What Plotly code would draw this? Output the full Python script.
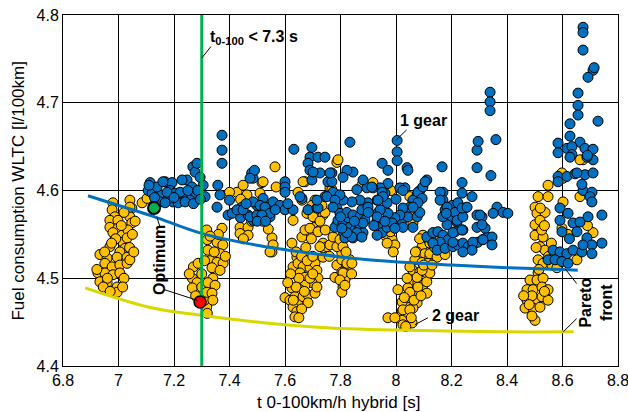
import plotly.graph_objects as go

# ---------------- data ----------------
# 2-gear variants (yellow), grouped by cluster: (t0-100 [s], fuel [l/100km])
yellow_c1 = [(6.98,4.586),(6.977,4.578),(6.987,4.57),(6.969,4.566),(6.998,4.566),(6.969,4.558),(6.998,4.557),
             (6.98,4.552),(7.013,4.549),(6.987,4.544),(7.016,4.541),(6.969,4.536),(7.023,4.534),(7.005,4.53),
             (6.933,4.527),(6.959,4.523),(6.995,4.524),(7.031,4.524),(6.951,4.517),(6.977,4.513),(7.005,4.515),
             (7.031,4.517),(6.926,4.506),(6.951,4.506),(6.98,4.504),(7.005,4.506),(6.933,4.496),(6.959,4.495),
             (6.995,4.49),(6.995,4.484),(7.041,4.589),(7.048,4.58),(7.041,4.57),(7.048,4.563),(7.034,4.555),
             (7.031,4.546),(7.041,4.521),(7.02,4.50),(6.922,4.51),(6.96,4.50),(7.04,4.535),(7.06,4.565),
             (6.99,4.545),(7.085,4.586),(7.103,4.591),(7.041,4.581),(6.975,4.54),(7.01,4.56),(7.02,4.575),(6.95,4.53),
             (6.945,4.49),(6.97,4.485),(7.015,4.49),(7.05,4.55),(7.055,4.53)]
yellow_c2 = [(7.27,4.513),(7.287,4.517),(7.266,4.50),(7.283,4.495),(7.266,4.489),(7.278,4.48),(7.318,4.467),
             (7.32,4.46),(7.31,4.475),(7.30,4.49),(7.30,4.505),(7.318,4.555),(7.373,4.557),(7.32,4.544),
             (7.355,4.541),(7.376,4.538),(7.322,4.532),(7.366,4.528),(7.33,4.52),(7.355,4.518),(7.377,4.517),
             (7.337,4.512),(7.366,4.509),(7.34,4.50),(7.322,4.495),(7.348,4.492),(7.318,4.484),(7.337,4.483),
             (7.345,4.53),(7.36,4.55),(7.385,4.525),(7.31,4.52),(7.33,4.548),(7.34,4.475),(7.255,4.505),
             (7.427,4.598),(7.449,4.606),(7.463,4.595),(7.517,4.609),(7.51,4.597),(7.564,4.627),(7.568,4.604),
             (7.40,4.598),(7.44,4.59),(7.438,4.558),(7.467,4.558),(7.438,4.551),(7.467,4.549),(7.45,4.545),
             (7.553,4.546),(7.557,4.538),(7.553,4.53),(7.546,4.53),(7.54,4.556),(7.48,4.565),(7.52,4.565)]
yellow_c3 = [(7.629,4.566),(7.625,4.54),(7.643,4.524),(7.629,4.513),(7.647,4.517),(7.665,4.513),(7.654,4.506),
             (7.672,4.501),(7.69,4.512),(7.708,4.517),(7.715,4.509),(7.719,4.50),(7.697,4.495),(7.672,4.492),
             (7.654,4.487),(7.625,4.489),(7.60,4.478),(7.618,4.475),(7.636,4.479),(7.647,4.473),(7.629,4.467),
             (7.643,4.462),(7.636,4.456),(7.665,4.479),(7.683,4.481),(7.683,4.472),(7.708,4.483),(7.715,4.49),
             (7.661,4.547),(7.672,4.555),(7.715,4.566),(7.737,4.572),(7.708,4.558),(7.726,4.555),(7.737,4.54),
             (7.751,4.536),(7.737,4.524),(7.787,4.515),(7.78,4.501),(7.708,4.589),(7.744,4.575),(7.733,4.583),
             (7.672,4.61),(7.787,4.632),(7.787,4.595),(7.647,4.598),(7.661,4.589),(7.697,4.583),(7.679,4.574),
             (7.701,4.57),(7.69,4.557),(7.719,4.553),(7.726,4.536),(7.762,4.538),(7.773,4.547),(7.64,4.53),
             (7.66,4.525),(7.68,4.52),(7.70,4.525),(7.65,4.50),(7.69,4.50),(7.62,4.505),(7.64,4.49),(7.66,4.465),
             (7.65,4.455),(7.762,4.603),(7.791,4.635),(7.521,4.61),(7.665,4.61),(7.769,4.601),(7.726,4.565),
             (7.61,4.495),(7.63,4.475),(7.67,4.485),(7.70,4.505),(7.675,4.535),(7.695,4.545),(7.745,4.555),(7.76,4.525)]
yellow_c4 = [(7.805,4.521),(7.823,4.513),(7.805,4.507),(7.827,4.504),(7.816,4.498),(7.809,4.49),(7.805,4.484),
             (7.834,4.521),(7.805,4.529),(7.787,4.536),(7.798,4.544),(7.809,4.536),(7.823,4.517),(7.841,4.517),
             (7.809,4.506),(7.798,4.498),(7.816,4.492),(7.82,4.53),(7.84,4.505),(7.917,4.609),(7.877,4.606),
             (7.96,4.549),(7.986,4.544),(7.996,4.538),(7.968,4.54),(7.99,4.53),(7.98,4.553),(8.05,4.593),
             (8.058,4.583),(8.05,4.572),(8.061,4.563),(7.982,4.60)]
yellow_c5 = [(8.097,4.549),(8.115,4.544),(8.13,4.538),(8.094,4.536),(8.076,4.53),(8.104,4.528),(8.122,4.524),
             (8.068,4.521),(8.094,4.518),(8.115,4.517),(8.061,4.509),(8.086,4.507),(8.111,4.506),(8.061,4.498),
             (8.079,4.495),(8.097,4.492),(8.043,4.489),(8.068,4.484),(8.111,4.483),(8.05,4.475),(8.076,4.472),
             (8.04,4.467),(8.022,4.462),(8.061,4.466),(8.043,4.456),(8.022,4.452),(8.058,4.449),(8.025,4.447),
             (7.971,4.455),(7.996,4.455),(8.007,4.487),(8.022,4.473),(8.025,4.464),(8.05,4.484),(8.079,4.49),
             (8.111,4.496),(8.122,4.506),(8.076,4.501),(8.094,4.509),(8.122,4.528),(8.122,4.54),(8.148,4.524),
             (8.177,4.527),(8.05,4.513),(8.05,4.464),(8.14,4.535),(8.16,4.545),(8.085,4.545),(8.04,4.50),
             (8.03,4.478),(8.065,4.475),(8.09,4.48),(8.10,4.515),(8.07,4.53),(8.13,4.515),(8.055,4.455),(8.035,4.445)]
yellow_c6 = [(8.548,4.606),(8.512,4.593),(8.548,4.593),(8.602,4.587),(8.501,4.581),(8.508,4.574),(8.537,4.575),
             (8.501,4.561),(8.519,4.566),(8.501,4.549),(8.53,4.547),(8.519,4.536),(8.537,4.532),(8.512,4.521),
             (8.53,4.517),(8.562,4.515),(8.58,4.512),(8.512,4.506),(8.483,4.498),(8.508,4.498),(8.53,4.50),
             (8.472,4.487),(8.494,4.487),(8.526,4.49),(8.548,4.487),(8.472,4.475),(8.501,4.475),(8.526,4.479),
             (8.548,4.475),(8.465,4.466),(8.494,4.466),(8.519,4.467),(8.501,4.452),(8.674,4.635),(8.602,4.614),
             (8.663,4.593),(8.71,4.552),(8.652,4.521),(8.598,4.557),(8.598,4.62),(8.663,4.635),(8.525,4.555),
             (8.55,4.525),(8.49,4.48),(8.515,4.51),(8.57,4.53),(8.62,4.55),(8.69,4.56),
             (8.48,4.47),(8.46,4.48),(8.535,4.485),(8.505,4.535),(8.52,4.58),(8.535,4.56),(8.56,4.54),(8.49,4.457)]

# 1-gear variants (blue)
blue_c1 = [(7.114,4.609),(7.124,4.603),(7.107,4.60),(7.121,4.597),(7.15,4.595),(7.168,4.61),(7.193,4.609),
           (7.186,4.60),(7.204,4.597),(7.175,4.589),(7.196,4.587),(7.222,4.591),(7.24,4.595),(7.247,4.612),
           (7.268,4.627),(7.276,4.621),(7.265,4.604),(7.276,4.595),(7.258,4.589),(7.312,4.593),(7.305,4.606),
           (7.15,4.587),(7.168,4.586),(7.215,4.586),(7.24,4.587),(7.139,4.604),(7.175,4.598),(7.222,4.598),
           (7.16,4.61),(7.229,4.612),(7.283,4.631),(7.294,4.615),(7.11,4.606),(7.285,4.60),(7.25,4.60),
           (7.20,4.592),(7.13,4.592),(7.27,4.585),(7.295,4.59)]
blue_c2 = [(7.373,4.663),(7.373,4.646),(7.373,4.631),(7.358,4.606),(7.366,4.595),(7.355,4.581),(7.40,4.589),
           (7.395,4.572),(7.41,4.574),(7.445,4.581),(7.44,4.569),(7.467,4.572),(7.485,4.566),(7.48,4.62),
           (7.485,4.614),(7.49,4.623),(7.427,4.578),(7.449,4.578),(7.474,4.57),(7.499,4.572),(7.521,4.572),
           (7.546,4.57),(7.539,4.581),(7.517,4.583),(7.499,4.583),(7.485,4.587),(7.521,4.591),(7.557,4.587),
           (7.582,4.583),(7.60,4.578),(7.629,4.578),(7.661,4.591),(7.683,4.578),(7.715,4.58),(7.744,4.593),
           (7.773,4.598),(7.787,4.58),(7.787,4.561),(7.474,4.614),(7.60,4.61),(7.60,4.604),(7.60,4.598),
           (7.632,4.647),(7.697,4.649),(7.69,4.638),(7.683,4.631),(7.69,4.623),(7.719,4.638),(7.744,4.638),
           (7.726,4.62),(7.697,4.612),(7.755,4.61),(7.769,4.62),(7.51,4.583),(7.528,4.581),(7.546,4.574),
           (7.517,4.572),(7.654,4.593),(7.719,4.58),(7.715,4.589),(7.751,4.593),(7.769,4.61),(7.762,4.62),
           (7.701,4.621),(7.46,4.585),(7.50,4.565),(7.53,4.565),(7.565,4.578),(7.61,4.585)]
blue_c3 = [(7.78,4.558),(7.791,4.566),(7.809,4.563),(7.827,4.569),(7.834,4.558),(7.852,4.555),(7.87,4.558),
           (7.881,4.552),(7.859,4.549),(7.827,4.549),(7.809,4.553),(7.816,4.546),(7.845,4.546),(7.798,4.574),
           (7.823,4.575),(7.845,4.572),(7.87,4.57),(7.888,4.566),(7.899,4.586),(7.87,4.589),(7.841,4.587),
           (7.809,4.589),(7.932,4.574),(7.932,4.566),(7.935,4.558),(7.95,4.552),(7.932,4.549),(7.968,4.558),
           (7.99,4.566),(8.004,4.561),(8.022,4.566),(8.043,4.57),(8.061,4.558),(8.076,4.57),(8.086,4.575),
           (8.025,4.558),(7.834,4.655),(8.004,4.657),(8.004,4.644),(8.004,4.634),(7.95,4.631),(7.971,4.623),
           (8.04,4.626),(8.111,4.612),(8.086,4.60),(8.076,4.595),(8.061,4.589),(8.05,4.581),(8.032,4.603),
           (8.014,4.603),(8.025,4.58),(8.014,4.572),(7.996,4.569),(7.986,4.563),(7.996,4.557),(7.971,4.574),
           (7.968,4.586),(7.96,4.597),(7.971,4.608),(7.943,4.603),(7.917,4.603),(7.895,4.603),(7.881,4.612),
           (7.845,4.621),(7.823,4.623),(7.809,4.615),(7.859,4.601),(7.798,4.595),(7.78,4.589),(7.773,4.581),
           (7.877,4.578),(7.899,4.581),(7.932,4.589),(7.943,4.578),(7.932,4.57),(7.881,4.563),(7.859,4.552),
           (7.877,4.547),(7.841,4.547),(7.823,4.552),(7.805,4.557),(7.913,4.604),(7.95,4.598),(7.953,4.593),
           (7.935,4.589),(8.025,4.60),(8.079,4.598),(8.097,4.604),(8.105,4.61),(8.094,4.591),(8.079,4.586),
           (8.061,4.581),(8.043,4.623),(7.90,4.575),(7.92,4.56),(7.96,4.565),(8.0,4.59),(7.85,4.565),(7.80,4.57)]
blue_c4 = [(8.111,4.547),(8.133,4.552),(8.151,4.553),(8.169,4.549),(8.188,4.544),(8.159,4.541),(8.133,4.54),
           (8.148,4.532),(8.177,4.534),(8.205,4.536),(8.223,4.538),(8.241,4.54),(8.26,4.536),(8.277,4.538),
           (8.295,4.541),(8.313,4.544),(8.328,4.547),(8.321,4.557),(8.292,4.558),(8.292,4.572),(8.31,4.57),
           (8.249,4.58),(8.22,4.574),(8.195,4.57),(8.177,4.578),(8.202,4.583),(8.223,4.586),(8.238,4.597),
           (8.238,4.609),(8.274,4.593),(8.22,4.564),(8.213,4.553),(8.241,4.555),(8.184,4.561),(8.169,4.598),
           (8.169,4.589),(8.166,4.627),(8.292,4.646),(8.296,4.656),(8.292,4.626),(8.339,4.712),(8.339,4.701),
           (8.339,4.691),(8.36,4.658),(8.342,4.617),(8.364,4.581),(8.386,4.575),(8.403,4.574),(8.35,4.574),
           (8.303,4.572),(8.31,4.561),(8.346,4.547),(8.346,4.538),(8.313,4.544),(8.277,4.541),(8.274,4.532),
           (8.241,4.53),(8.205,4.541),(8.205,4.552),(8.169,4.57),(8.184,4.581),(8.213,4.575),(8.22,4.566),
           (8.241,4.57),(8.238,4.58),(8.256,4.581),(8.238,4.555),(8.159,4.598),(8.159,4.589),(8.181,4.574)]
blue_c5 = [(8.674,4.786),(8.674,4.78),(8.674,4.76),(8.71,4.737),(8.714,4.74),(8.692,4.729),(8.656,4.711),
           (8.656,4.697),(8.656,4.686),(8.627,4.676),(8.728,4.679),(8.627,4.662),(8.663,4.655),(8.584,4.654),
           (8.584,4.643),(8.616,4.648),(8.634,4.65),(8.634,4.641),(8.681,4.648),(8.71,4.647),(8.71,4.635),
           (8.688,4.638),(8.584,4.616),(8.616,4.616),(8.645,4.619),(8.681,4.618),(8.71,4.62),(8.674,4.60),
           (8.706,4.598),(8.699,4.593),(8.706,4.587),(8.591,4.58),(8.62,4.574),(8.591,4.566),(8.638,4.563),
           (8.663,4.564),(8.692,4.57),(8.742,4.572),(8.598,4.553),(8.652,4.553),(8.688,4.546),(8.742,4.54),
           (8.706,4.538),(8.566,4.532),(8.591,4.53),(8.616,4.528),(8.638,4.532),(8.67,4.53),(8.548,4.521),
           (8.573,4.521),(8.598,4.519),(8.62,4.517),(8.674,4.538),(8.706,4.528),(8.652,4.62),(8.627,4.638),
           (8.584,4.61),(8.67,4.607),(8.69,4.64),(8.625,4.545)]

# Pareto fronts
front1_x = [6.89, 7.03, 7.13, 7.29, 7.51, 7.73, 7.90, 8.20, 8.40, 8.59, 8.655]
front1_y = [4.594, 4.580, 4.570, 4.552, 4.537, 4.527, 4.521, 4.515, 4.512, 4.510, 4.509]
front2_x = [6.88, 7.11, 7.29, 7.53, 7.73, 8.00, 8.37, 8.64]
front2_y = [4.489, 4.467, 4.458, 4.449, 4.444, 4.441, 4.439, 4.439]

# Constraint and optima
t_limit = 7.3
opt_1gear = (7.128, 4.580)
opt_2gear = (7.294, 4.473)

x_ticks = [6.8, 7.0, 7.2, 7.4, 7.6, 7.8, 8.0, 8.2, 8.4, 8.6, 8.8]
x_ticktext = ["6.8", "7", "7.2", "7.4", "7.6", "7.8", "8", "8.2", "8.4", "8.6", "8.8"]
y_ticks = [4.4, 4.5, 4.6, 4.7, 4.8]
y_ticktext = ["4.4", "4.5", "4.6", "4.7", "4.8"]

# ---------------- figure ----------------
FONT = "Liberation Sans, Arial, sans-serif"
BLUE = "#0070C0"
YELLOW = "#FFC000"

yellow = yellow_c1 + yellow_c2 + yellow_c3 + yellow_c4 + yellow_c5 + yellow_c6
blue = blue_c1 + blue_c2 + blue_c3 + blue_c4 + blue_c5

fig = go.Figure()
mk_line = dict(color="black", width=1)
fig.add_trace(go.Scatter(x=[p[0] for p in yellow], y=[p[1] for p in yellow], mode="markers",
                         marker=dict(size=10, color=YELLOW, line=mk_line), hoverinfo="skip"))
fig.add_trace(go.Scatter(x=[p[0] for p in blue], y=[p[1] for p in blue], mode="markers",
                         marker=dict(size=10, color=BLUE, line=mk_line), hoverinfo="skip"))
fig.add_trace(go.Scatter(x=front1_x, y=front1_y, mode="lines",
                         line=dict(color=BLUE, width=3, shape="spline", smoothing=1.0), hoverinfo="skip"))
fig.add_trace(go.Scatter(x=front2_x, y=front2_y, mode="lines",
                         line=dict(color="#D8D800", width=3, shape="spline", smoothing=1.0), hoverinfo="skip"))
fig.add_trace(go.Scatter(x=[t_limit, t_limit], y=[y_ticks[0], y_ticks[-1]], mode="lines",
                         line=dict(color="#00B050", width=3), hoverinfo="skip"))
fig.add_trace(go.Scatter(x=[opt_1gear[0]], y=[opt_1gear[1]], mode="markers",
                         marker=dict(size=12, color="#00B050", line=dict(color="black", width=2)), hoverinfo="skip"))
fig.add_trace(go.Scatter(x=[opt_2gear[0]], y=[opt_2gear[1]], mode="markers",
                         marker=dict(size=12, color="#FF0000", line=dict(color="black", width=1.5)), hoverinfo="skip"))

# leader lines
leaders = [
    ((7.300, 4.751), (7.333, 4.764)),   # t0-100
    ((8.002, 4.658), (8.038, 4.669)),   # 1 gear
    ((8.068, 4.447), (8.115, 4.455)),   # 2 gear
    ((7.139, 4.569), (7.150, 4.558)),   # optimum (green)
    ((7.165, 4.487), (7.283, 4.475)),   # optimum (red)
    ((8.609, 4.511), (8.651, 4.494)),   # pareto (blue)
    ((8.603, 4.439), (8.651, 4.454)),   # pareto (yellow)
]
shapes = [dict(type="line", xref="x", yref="y", x0=a[0], y0=a[1], x1=b[0], y1=b[1],
               line=dict(color="black", width=1)) for a, b in leaders]

afont = dict(family=FONT, size=16, color="black")
tfont = dict(family=FONT, size=17, color="black")
annotations = [
    dict(x=7.322, y=4.774, text="<b>t<sub>0-100</sub> &lt; 7.3 s</b>", xanchor="left", yanchor="middle"),
    dict(x=8.007, y=4.680, text="<b>1 gear</b>", xanchor="left", yanchor="middle"),
    dict(x=8.122, y=4.457, text="<b>2 gear</b>", xanchor="left", yanchor="middle"),
    dict(x=7.150, y=4.521, text="<b>Optimum</b>", textangle=-90, xanchor="center", yanchor="middle"),
    dict(x=8.72, y=4.472, text="<b>Pareto<br>front</b>", textangle=-90, xanchor="center", yanchor="middle"),
]
for a in annotations:
    a.update(xref="x", yref="y", showarrow=False)
    a.setdefault("font", afont)
# axis titles
annotations.append(dict(xref="paper", yref="paper", x=-0.081, y=0.5, xanchor="center", yanchor="middle",
                        textangle=-90, showarrow=False, font=tfont, text="Fuel consumption WLTC [l/100km]"))
annotations.append(dict(xref="paper", yref="paper", x=0.497, y=-0.103, xanchor="center", yanchor="middle",
                        showarrow=False, font=tfont, text="t 0-100km/h hybrid [s]"))

axis_common = dict(showgrid=True, gridcolor="black", gridwidth=1, zeroline=False, automargin=False,
                   showline=True, linecolor="black", linewidth=1, mirror=True, ticks="",
                   ticklabeloverflow="allow",
                   tickfont=dict(family=FONT, size=16, color="black"))
fig.update_layout(
    width=628, height=412,
    margin=dict(l=63, r=10, t=15, b=46, autoexpand=False),
    paper_bgcolor="white", plot_bgcolor="white",
    showlegend=False,
    shapes=shapes, annotations=annotations,
    xaxis=dict(range=[6.8, 8.8], tickvals=x_ticks, ticktext=x_ticktext, **axis_common),
    yaxis=dict(range=[4.4, 4.8], tickvals=y_ticks, ticktext=y_ticktext, **axis_common),
)
# remove the default 8 px page margin so the 628x412 figure fills the window exactly
fig.write_html("out.html", config={"displayModeBar": False, "staticPlot": True},
               post_script="document.body.style.margin='0';document.body.style.overflow='hidden';")
